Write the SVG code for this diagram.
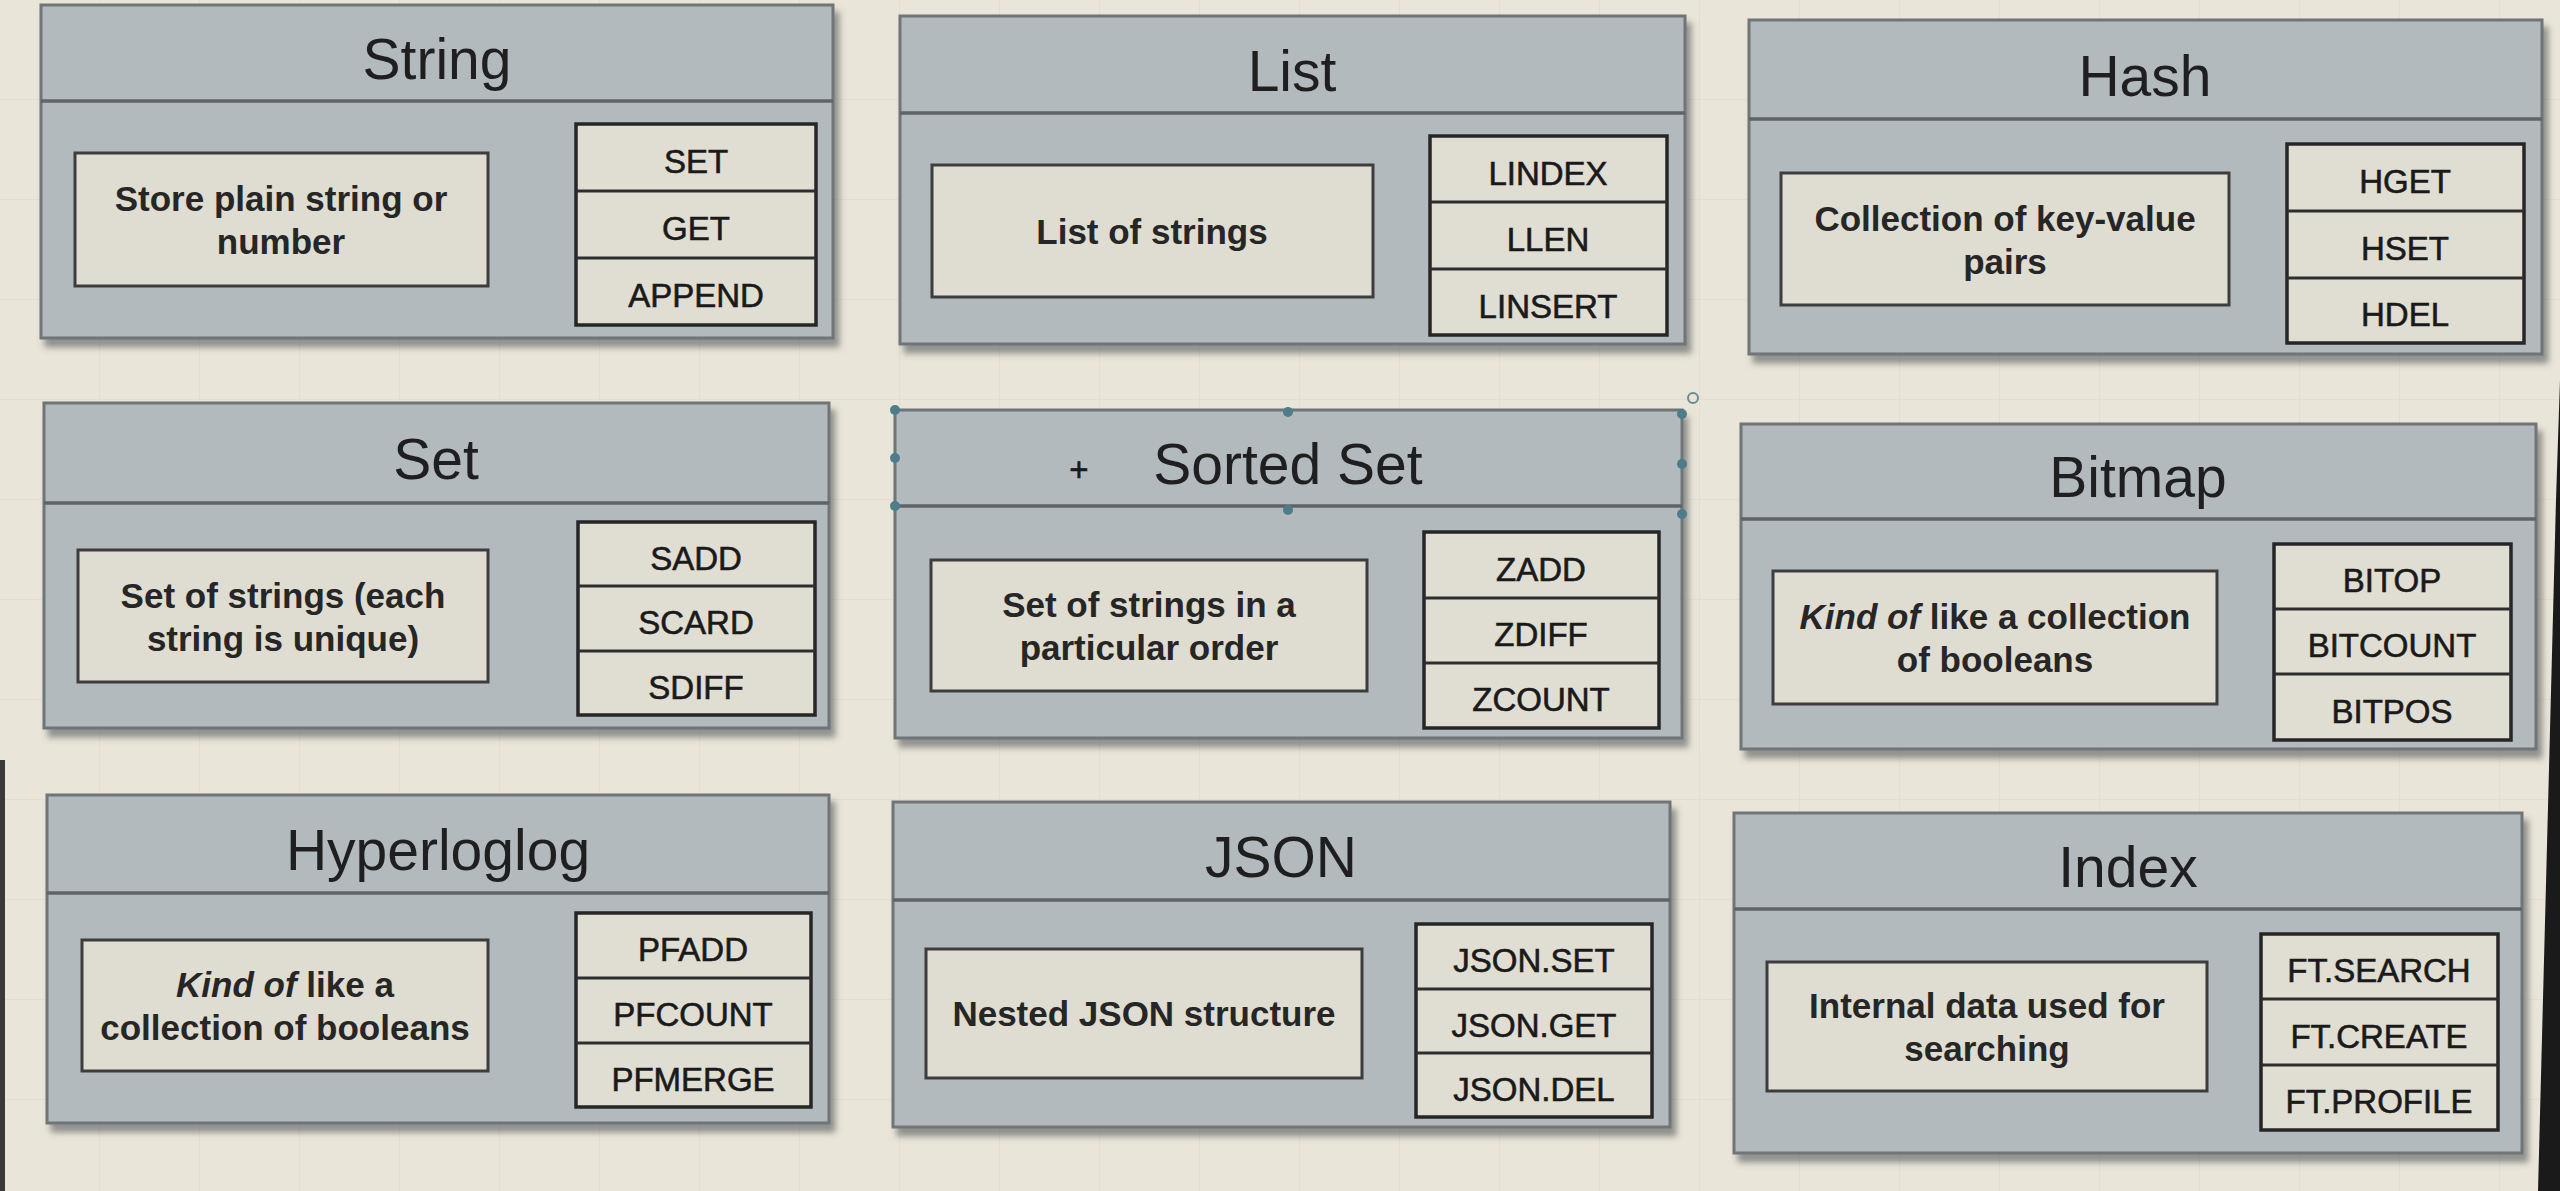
<svg xmlns="http://www.w3.org/2000/svg" width="2560" height="1191" viewBox="0 0 2560 1191">
<defs>
<pattern id="grid" width="100" height="100" patternUnits="userSpaceOnUse">
<path d="M100 0V100M0 100H100" fill="none" stroke="#dbd6c8" stroke-width="2"/>
</pattern>
<filter id="sh" x="-5%" y="-5%" width="112%" height="120%">
<feDropShadow dx="5" dy="8" stdDeviation="3" flood-color="#4a4d4f" flood-opacity="0.55"/>
</filter>
</defs>
<style>
.panel{fill:#b2babd;stroke:#6f7578;stroke-width:3;filter:url(#sh)}
.div{stroke:#5e6467;stroke-width:3.5}
.desc{fill:#dfdcd1;stroke:#3d3d3d;stroke-width:3}
.cmd{fill:#e0ddd2;stroke:#262626;stroke-width:3.5}
.sep{stroke:#2e2e2e;stroke-width:3}
.title{font-family:"Liberation Sans",Arial,sans-serif;font-size:57px;fill:#1f1f22;text-anchor:middle}
.dt{font-family:"Liberation Sans",Arial,sans-serif;font-size:35px;font-weight:bold;fill:#262626;text-anchor:middle}
.ct{font-family:"Liberation Sans",Arial,sans-serif;font-size:33px;fill:#1a1a1a;stroke:#1a1a1a;stroke-width:0.6;text-anchor:middle}
.h{fill:#4d7c8a}
</style>
<rect width="2560" height="1191" fill="#e9e5d8"/>
<rect width="2560" height="1191" fill="url(#grid)" opacity="0.45"/>
<polygon points="2560,380 2556,500 2538,1191 2560,1191" fill="#1a1a1a"/>
<rect x="0" y="760" width="5" height="431" fill="#3a3a3a"/>

<g id="string">
<rect class="panel" x="41" y="5" width="792" height="333"/>
<line class="div" x1="41" y1="101" x2="833" y2="101"/>
<text class="title" x="437" y="79">String</text>
<rect class="desc" x="75" y="153" width="413" height="133"/>
<text class="dt" x="281" y="211">Store plain string or</text>
<text class="dt" x="281" y="254">number</text>
<rect class="cmd" x="576" y="124" width="240" height="201"/>
<line class="sep" x1="576" y1="191" x2="816" y2="191"/>
<line class="sep" x1="576" y1="258" x2="816" y2="258"/>
<text class="ct" x="696" y="173">SET</text>
<text class="ct" x="696" y="240">GET</text>
<text class="ct" x="696" y="307">APPEND</text>
</g>

<g id="list">
<rect class="panel" x="900" y="16" width="785" height="328"/>
<line class="div" x1="900" y1="113" x2="1685" y2="113"/>
<text class="title" x="1292" y="91">List</text>
<rect class="desc" x="932" y="165" width="441" height="132"/>
<text class="dt" x="1152" y="244">List of strings</text>
<rect class="cmd" x="1430" y="136" width="237" height="199"/>
<line class="sep" x1="1430" y1="202" x2="1667" y2="202"/>
<line class="sep" x1="1430" y1="269" x2="1667" y2="269"/>
<text class="ct" x="1548" y="185">LINDEX</text>
<text class="ct" x="1548" y="251">LLEN</text>
<text class="ct" x="1548" y="318">LINSERT</text>
</g>

<g id="hash">
<rect class="panel" x="1749" y="20" width="793" height="334"/>
<line class="div" x1="1749" y1="119" x2="2542" y2="119"/>
<text class="title" x="2145" y="96">Hash</text>
<rect class="desc" x="1781" y="173" width="448" height="132"/>
<text class="dt" x="2005" y="231">Collection of key-value</text>
<text class="dt" x="2005" y="274">pairs</text>
<rect class="cmd" x="2287" y="144" width="237" height="199"/>
<line class="sep" x1="2287" y1="211" x2="2524" y2="211"/>
<line class="sep" x1="2287" y1="278" x2="2524" y2="278"/>
<text class="ct" x="2405" y="193">HGET</text>
<text class="ct" x="2405" y="260">HSET</text>
<text class="ct" x="2405" y="326">HDEL</text>
</g>

<g id="set">
<rect class="panel" x="44" y="403" width="785" height="325"/>
<line class="div" x1="44" y1="503" x2="829" y2="503"/>
<text class="title" x="436" y="479">Set</text>
<rect class="desc" x="78" y="550" width="410" height="132"/>
<text class="dt" x="283" y="608">Set of strings (each</text>
<text class="dt" x="283" y="651">string is unique)</text>
<rect class="cmd" x="578" y="522" width="237" height="193"/>
<line class="sep" x1="578" y1="586" x2="815" y2="586"/>
<line class="sep" x1="578" y1="651" x2="815" y2="651"/>
<text class="ct" x="696" y="570">SADD</text>
<text class="ct" x="696" y="634">SCARD</text>
<text class="ct" x="696" y="699">SDIFF</text>
</g>

<g id="sorted-set">
<rect class="panel" x="895" y="410" width="787" height="328"/>
<line class="div" x1="895" y1="506" x2="1682" y2="506"/>
<text class="title" x="1288" y="484">Sorted Set</text>
<text class="ct" x="1079" y="481">+</text>
<rect class="desc" x="931" y="560" width="436" height="131"/>
<text class="dt" x="1149" y="617">Set of strings in a</text>
<text class="dt" x="1149" y="660">particular order</text>
<rect class="cmd" x="1424" y="532" width="235" height="196"/>
<line class="sep" x1="1424" y1="598" x2="1659" y2="598"/>
<line class="sep" x1="1424" y1="663" x2="1659" y2="663"/>
<text class="ct" x="1541" y="581">ZADD</text>
<text class="ct" x="1541" y="646">ZDIFF</text>
<text class="ct" x="1541" y="711">ZCOUNT</text>
<circle class="h" cx="895" cy="410" r="5"/>
<circle class="h" cx="1288" cy="412" r="5"/>
<circle class="h" cx="1682" cy="414" r="5"/>
<circle class="h" cx="895" cy="458" r="5"/>
<circle class="h" cx="1682" cy="464" r="5"/>
<circle class="h" cx="895" cy="506" r="5"/>
<circle class="h" cx="1288" cy="510" r="5"/>
<circle class="h" cx="1682" cy="514" r="5"/>
<circle cx="1693" cy="398" r="5" fill="none" stroke="#6e8a92" stroke-width="2"/>
</g>

<g id="bitmap">
<rect class="panel" x="1741" y="424" width="795" height="325"/>
<line class="div" x1="1741" y1="519" x2="2536" y2="519"/>
<text class="title" x="2138" y="497">Bitmap</text>
<rect class="desc" x="1773" y="571" width="444" height="133"/>
<text class="dt" x="1995" y="629"><tspan font-style="italic">Kind of</tspan> like a collection</text>
<text class="dt" x="1995" y="672">of booleans</text>
<rect class="cmd" x="2274" y="544" width="237" height="196"/>
<line class="sep" x1="2274" y1="609" x2="2511" y2="609"/>
<line class="sep" x1="2274" y1="674" x2="2511" y2="674"/>
<text class="ct" x="2392" y="592">BITOP</text>
<text class="ct" x="2392" y="657">BITCOUNT</text>
<text class="ct" x="2392" y="723">BITPOS</text>
</g>

<g id="hyperloglog">
<rect class="panel" x="47" y="795" width="782" height="328"/>
<line class="div" x1="47" y1="893" x2="829" y2="893"/>
<text class="title" x="438" y="870">Hyperloglog</text>
<rect class="desc" x="82" y="940" width="406" height="131"/>
<text class="dt" x="285" y="997"><tspan font-style="italic">Kind of</tspan> like a</text>
<text class="dt" x="285" y="1040">collection of booleans</text>
<rect class="cmd" x="576" y="913" width="235" height="194"/>
<line class="sep" x1="576" y1="978" x2="811" y2="978"/>
<line class="sep" x1="576" y1="1043" x2="811" y2="1043"/>
<text class="ct" x="693" y="961">PFADD</text>
<text class="ct" x="693" y="1026">PFCOUNT</text>
<text class="ct" x="693" y="1091">PFMERGE</text>
</g>

<g id="json">
<rect class="panel" x="893" y="802" width="777" height="325"/>
<line class="div" x1="893" y1="900" x2="1670" y2="900"/>
<text class="title" x="1281" y="877">JSON</text>
<rect class="desc" x="926" y="949" width="436" height="129"/>
<text class="dt" x="1144" y="1026">Nested JSON structure</text>
<rect class="cmd" x="1416" y="924" width="236" height="193"/>
<line class="sep" x1="1416" y1="989" x2="1652" y2="989"/>
<line class="sep" x1="1416" y1="1053" x2="1652" y2="1053"/>
<text class="ct" x="1534" y="972">JSON.SET</text>
<text class="ct" x="1534" y="1037">JSON.GET</text>
<text class="ct" x="1534" y="1101">JSON.DEL</text>
</g>

<g id="index">
<rect class="panel" x="1734" y="813" width="788" height="340"/>
<line class="div" x1="1734" y1="909" x2="2522" y2="909"/>
<text class="title" x="2128" y="887">Index</text>
<rect class="desc" x="1767" y="962" width="440" height="129"/>
<text class="dt" x="1987" y="1018">Internal data used for</text>
<text class="dt" x="1987" y="1061">searching</text>
<rect class="cmd" x="2261" y="934" width="237" height="196"/>
<line class="sep" x1="2261" y1="999" x2="2498" y2="999"/>
<line class="sep" x1="2261" y1="1065" x2="2498" y2="1065"/>
<text class="ct" x="2379" y="982">FT.SEARCH</text>
<text class="ct" x="2379" y="1048">FT.CREATE</text>
<text class="ct" x="2379" y="1113">FT.PROFILE</text>
</g>

<g id="connectors"></g>
</svg>
